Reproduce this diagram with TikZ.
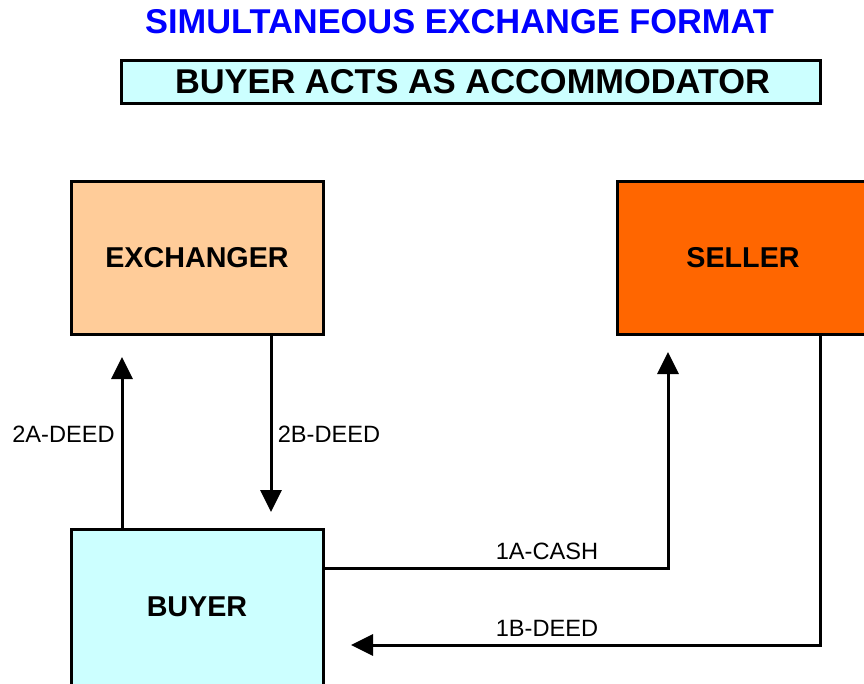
\documentclass[tikz,border=0pt]{standalone}
\usepackage{fontspec}
\setmainfont{Liberation Sans}
\usetikzlibrary{arrows.meta}

\definecolor{titleblue}{RGB}{0,0,255}
\definecolor{paleaqua}{RGB}{204,255,255}
\definecolor{peach}{RGB}{255,204,153}
\definecolor{deeporange}{RGB}{255,102,0}

\tikzset{
  party/.style={draw=black, line width=3pt, rectangle, inner sep=0pt,
    minimum width=252pt, minimum height=153pt,
    font=\fontsize{28.7}{34}\selectfont\bfseries},
  flow/.style={line width=3pt, -{Triangle[length=22pt,width=21pt]}},
  flowlabel/.style={inner sep=0pt, font=\fontsize{23.6}{28}\selectfont},
  headline/.style={inner sep=0pt, font=\fontsize{34.4}{40}\selectfont\bfseries}
}

\begin{document}
\begin{tikzpicture}[x=1pt,y=-1pt]
  \useasboundingbox (0,0) rectangle (864,683);

  % headings
  \node[headline, text=titleblue] (title) at (459.5,22) {SIMULTANEOUS EXCHANGE FORMAT};
  \node[draw=black, line width=3pt, fill=paleaqua, inner sep=0pt,
        minimum width=699pt, minimum height=43pt] (banner) at (470.5,81.5) {};
  \node[headline] (bannertext) at (472.5,81.5) {BUYER ACTS AS ACCOMMODATOR};

  % parties
  \node[party, fill=peach] (exch) at (197,257.5) {EXCHANGER};
  \node[party, fill=deeporange] (seller) at (743,257.5) {SELLER};
  \node[party, fill=paleaqua, minimum height=156pt] (buyer) at (197,607) {BUYER};

  % arrow ends and bends
  \coordinate (tip2a) at (122,357);
  \coordinate (tip2b) at (271,512);
  \coordinate (bend1a) at (668,568);
  \coordinate (tip1a) at (668,352);
  \coordinate (bend1b) at (820,645);
  \coordinate (tip1b) at (351,645);

  % transfers
  \draw[flow] (tip2a |- buyer.north) -- (tip2a);
  \draw[flow] (tip2b |- exch.south) -- (tip2b);
  \draw[flow] (bend1a -| buyer.east) -- (bend1a) -- (tip1a);
  \draw[flow] (bend1b |- seller.south) -- (bend1b) -- (tip1b);

  % transfer labels
  \node[flowlabel] (lab2a) at (63.5,434) {2A-DEED};
  \node[flowlabel] (lab2b) at (329,434) {2B-DEED};
  \node[flowlabel] (lab1a) at (547,551) {1A-CASH};
  \node[flowlabel] (lab1b) at (547,628) {1B-DEED};
\end{tikzpicture}
\end{document}
